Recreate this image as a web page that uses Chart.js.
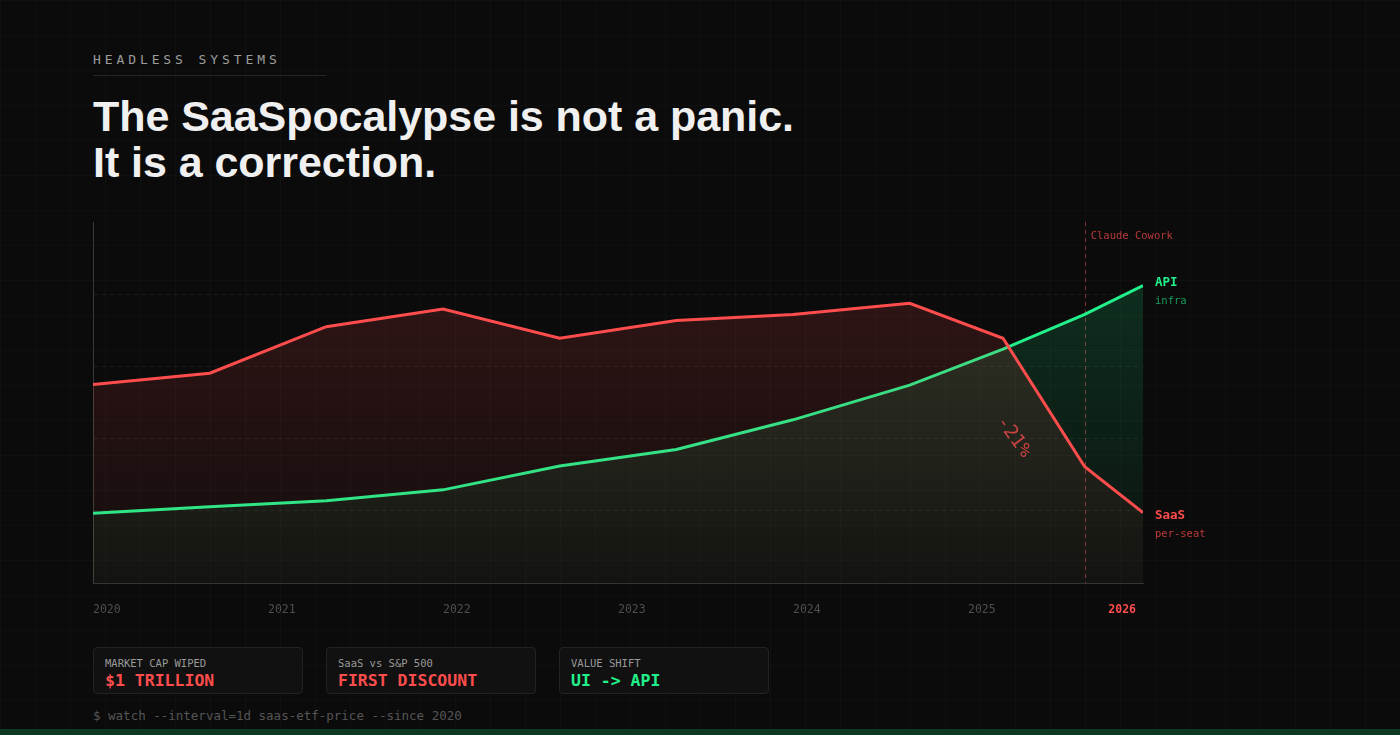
<!DOCTYPE html>
<html>
<head>
<meta charset="utf-8">
<script src="https://cdn.jsdelivr.net/npm/chart.js@4"></script>
<style>
  html, body { margin: 0; padding: 0; }
  body {
    width: 1400px; height: 735px; overflow: hidden; position: relative;
    background-color: #0b0b0b;
    background-image:
      linear-gradient(rgba(255,255,255,0.02) 1px, transparent 1px),
      linear-gradient(90deg, rgba(255,255,255,0.02) 1px, transparent 1px);
    background-size: 35px 35px;
    font-family: "DejaVu Sans Mono", monospace;
  }
  .kicker {
    position: absolute; left: 93px; top: 53px;
    font-size: 13px; line-height: 13px; letter-spacing: 3.9px; color: #9c9c9c;
  }
  .rule { position: absolute; left: 93px; top: 75px; width: 233px; height: 1px; background: #262626; }
  h1 {
    position: absolute; left: 93px; top: 93px; margin: 0;
    font-family: "Liberation Sans", Arial, sans-serif; font-weight: 700;
    font-size: 43px; line-height: 46px; letter-spacing: -0.05px; color: #f0f0f0;
  }
  #chart { position: absolute; left: 0; top: 200px; }
  .card {
    position: absolute; top: 647px; width: 208px; height: 45px;
    background: #111; border: 1px solid #222; border-radius: 4px;
  }
  .card .lbl { position: absolute; left: 11px; top: 10px; font-size: 10.5px; line-height: 10.5px; color: #9a9a9a; }
  .card .val { position: absolute; left: 11px; top: 25px; font-size: 16.5px; line-height: 16.5px; font-weight: 700; color: #ff4d4d; }
  .card .val.green { color: #22f08a; }
  .cmd { position: absolute; left: 93px; top: 710px; font-size: 12.5px; line-height: 12.5px; color: #555; }
  .band { position: absolute; left: 0; top: 729px; width: 1400px; height: 6px; background: #0e3a23; }
</style>
</head>
<body>

<div class="kicker">HEADLESS SYSTEMS</div>
<div class="rule"></div>
<h1>The SaaSpocalypse is not a panic.<br>It is a correction.</h1>

<canvas id="chart" width="1400" height="440"></canvas>

<div class="card" style="left:93px"><span class="lbl">MARKET CAP WIPED</span><span class="val">$1 TRILLION</span></div>
<div class="card" style="left:326px"><span class="lbl">SaaS vs S&amp;P 500</span><span class="val">FIRST DISCOUNT</span></div>
<div class="card" style="left:559px"><span class="lbl">VALUE SHIFT</span><span class="val green">UI -&gt; API</span></div>

<div class="cmd">$ watch --interval=1d saas-etf-price --since 2020</div>
<div class="band"></div>

<script>
/* ---------------- DATA ---------------- */

// x positions in years, shared by both series
const timeline = [2020, 2020.667, 2021.333, 2022, 2022.667, 2023.333, 2024, 2024.667, 2025.2, 2025.667, 2026];
const saasValues = [55.0, 58.1, 71.0, 75.9, 67.8, 72.7, 74.4, 77.5, 67.8, 32.2, 19.5];
const apiValues = [19.3, 21.1, 22.8, 25.8, 32.4, 37.0, 45.2, 54.8, 64.8, 74.4, 82.4];

const yearTicks = [2020, 2021, 2022, 2023, 2024, 2025, 2026];
const eventYear = 2025.667;
const eventLabel = "Claude Cowork";
const dropLabel = "-21%";

/* ---------------- HELPERS ---------------- */

const RED = "255,77,77";
const GREEN = "34,240,138";
const MONO = '"DejaVu Sans Mono", monospace';

function fade(rgb, top, bottom) {
  return (ctx) => {
    const area = ctx.chart.chartArea;
    if (!area) return "transparent";
    const g = ctx.chart.ctx.createLinearGradient(0, area.top, 0, area.bottom);
    g.addColorStop(0, `rgba(${rgb},${top})`);
    g.addColorStop(1, `rgba(${rgb},${bottom})`);
    return g;
  };
}

const toPoints = (vals) => vals.map((v, i) => ({ x: timeline[i], y: v }));

/* ---------------- OVERLAY (ticks, labels, marker) ---------------- */

const overlay = {
  id: "overlay",
  beforeDatasetsDraw(chart) {
    const { ctx, chartArea: a, scales: { x } } = chart;
    const ex = Math.round(x.getPixelForValue(eventYear)) + 0.5;
    ctx.save();
    ctx.strokeStyle = `rgba(${RED},0.5)`;
    ctx.lineWidth = 1;
    ctx.setLineDash([4, 4]);
    ctx.beginPath();
    ctx.moveTo(ex, a.top);
    ctx.lineTo(ex, a.bottom);
    ctx.stroke();
    ctx.restore();
  },
  afterDraw(chart) {
    const { ctx, chartArea: a, scales: { x, y } } = chart;
    ctx.save();
    ctx.textBaseline = "alphabetic";

    // year ticks
    yearTicks.forEach((yr, i) => {
      const last = i === yearTicks.length - 1;
      ctx.font = (last ? "bold " : "") + "11.5px " + MONO;
      ctx.fillStyle = last ? `rgb(${RED})` : "#4e4e4e";
      ctx.textAlign = last ? "right" : "left";
      const px = x.getPixelForValue(yr);
      ctx.fillText(String(yr), last ? px - 7 : px, a.bottom + 30);
    });

    // event label
    ctx.textAlign = "left";
    ctx.font = "10.5px " + MONO;
    ctx.fillStyle = `rgba(${RED},0.7)`;
    ctx.fillText(eventLabel, x.getPixelForValue(eventYear) + 6, a.top + 17);

    // series end labels
    const lx = a.right + 12;
    const apiY = y.getPixelForValue(apiValues[apiValues.length - 1]);
    const saasY = y.getPixelForValue(saasValues[saasValues.length - 1]);

    ctx.font = "bold 12.5px " + MONO;
    ctx.fillStyle = `rgb(${GREEN})`;
    ctx.fillText("API", lx, apiY);
    ctx.font = "10.5px " + MONO;
    ctx.fillStyle = `rgba(${GREEN},0.62)`;
    ctx.fillText("infra", lx, apiY + 18);

    ctx.font = "bold 12.5px " + MONO;
    ctx.fillStyle = `rgb(${RED})`;
    ctx.fillText("SaaS", lx, saasY + 6);
    ctx.font = "10.5px " + MONO;
    ctx.fillStyle = `rgba(${RED},0.72)`;
    ctx.fillText("per-seat", lx, saasY + 24);

    // drop annotation
    ctx.translate(x.getPixelForValue(2025.26), y.getPixelForValue(40.4));
    ctx.rotate(54 * Math.PI / 180);
    ctx.textAlign = "center";
    ctx.textBaseline = "middle";
    ctx.font = "19px " + MONO;
    ctx.fillStyle = `rgba(${RED},0.75)`;
    ctx.fillText(dropLabel, 0, 0);
    ctx.restore();
  }
};

/* ---------------- CHART ---------------- */

new Chart(document.getElementById("chart"), {
  type: "line",
  data: {
    datasets: [
      {
        label: "SaaS",
        data: toPoints(saasValues),
        borderColor: `rgb(${RED})`,
        borderWidth: 3,
        backgroundColor: fade(RED, 0.18, 0.03),
        fill: "origin",
        pointRadius: 0,
        tension: 0
      },
      {
        label: "API",
        data: toPoints(apiValues),
        borderColor: `rgb(${GREEN})`,
        borderWidth: 3,
        backgroundColor: fade(GREEN, 0.18, 0.03),
        fill: "origin",
        pointRadius: 0,
        tension: 0
      }
    ]
  },
  options: {
    responsive: false,
    animation: false,
    layout: { padding: { left: 93, right: 257, top: 22, bottom: 57 } },
    plugins: { legend: { display: false }, tooltip: { enabled: false } },
    scales: {
      x: {
        type: "linear",
        min: 2020,
        max: 2026,
        ticks: { display: false },
        grid: { display: false, drawTicks: false },
        border: { display: true, color: "#343434", width: 1 },
        afterFit: (s) => { s.height = 0; }
      },
      y: {
        min: 0,
        max: 100,
        ticks: { display: false, stepSize: 20 },
        grid: {
          drawTicks: false,
          color: (c) => (c.tick.value === 0 || c.tick.value === 100) ? "transparent" : "rgba(255,255,255,0.07)"
        },
        border: { display: true, color: "#3a3a3a", width: 1, dash: [4, 4] },
        afterFit: (s) => { s.width = 0; }
      }
    }
  },
  plugins: [overlay]
});
</script>
</body>
</html>
